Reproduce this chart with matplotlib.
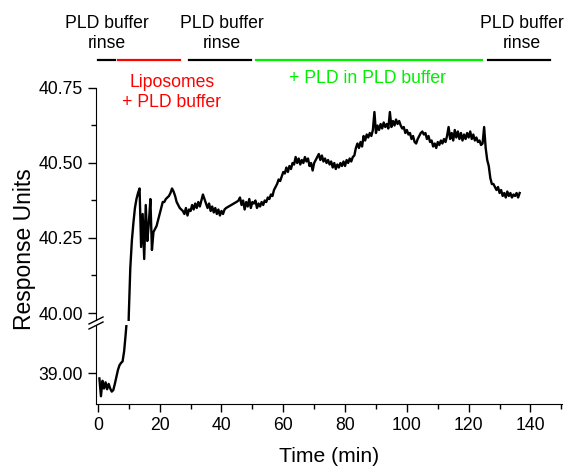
import numpy as np
import matplotlib.pyplot as plt
from matplotlib.lines import Line2D
from matplotlib.ticker import MultipleLocator, FixedLocator, FormatStrFormatter

plt.rcParams["font.family"] = ["Liberation Sans", "DejaVu Sans"]

# sensorgram, one reading every 0.5 min
time_min = np.arange(0.5, 137.0, 0.5)
response = np.array([
    38.93, 38.70, 38.90, 38.80, 38.88, 38.79, 38.86, 38.80, 38.76, 38.78,
    38.86, 38.95, 39.04, 39.10, 39.13, 39.15, 39.28, 39.50, 39.75, 39.99,
    40.15, 40.24, 40.30, 40.35, 40.38, 40.40, 40.415, 40.22, 40.33, 40.18,
    40.36, 40.24, 40.30, 40.38, 40.21, 40.27, 40.28, 40.29, 40.31, 40.33,
    40.35, 40.37, 40.37, 40.38, 40.385, 40.39, 40.40, 40.415, 40.405, 40.39,
    40.37, 40.36, 40.35, 40.345, 40.34, 40.33, 40.35, 40.325, 40.345, 40.34,
    40.36, 40.345, 40.365, 40.35, 40.37, 40.355, 40.375, 40.395, 40.38, 40.365,
    40.35, 40.365, 40.34, 40.355, 40.335, 40.35, 40.33, 40.345, 40.325, 40.34,
    40.33, 40.345, 40.35, 40.353, 40.356, 40.359, 40.362, 40.365, 40.368, 40.371,
    40.375, 40.385, 40.36, 40.375, 40.345, 40.37, 40.355, 40.38, 40.35, 40.37,
    40.365, 40.375, 40.35, 40.365, 40.355, 40.37, 40.36, 40.375, 40.37, 40.385,
    40.38, 40.395, 40.39, 40.41, 40.42, 40.43, 40.445, 40.44, 40.455, 40.47,
    40.465, 40.485, 40.47, 40.49, 40.48, 40.50, 40.495, 40.52, 40.50, 40.515,
    40.495, 40.51, 40.50, 40.52, 40.505, 40.515, 40.49, 40.50, 40.475, 40.50,
    40.51, 40.52, 40.53, 40.51, 40.525, 40.505, 40.515, 40.50, 40.51, 40.495,
    40.505, 40.485, 40.50, 40.48, 40.495, 40.485, 40.50, 40.49, 40.505, 40.49,
    40.51, 40.50, 40.515, 40.505, 40.52, 40.525, 40.55, 40.565, 40.55, 40.57,
    40.555, 40.59, 40.575, 40.595, 40.585, 40.60, 40.59, 40.61, 40.67, 40.60,
    40.625, 40.61, 40.63, 40.615, 40.635, 40.62, 40.63, 40.615, 40.67, 40.62,
    40.64, 40.625, 40.645, 40.63, 40.64, 40.625, 40.615, 40.62, 40.60, 40.61,
    40.595, 40.60, 40.58, 40.59, 40.57, 40.565, 40.58, 40.59, 40.60, 40.605,
    40.595, 40.60, 40.58, 40.59, 40.57, 40.575, 40.555, 40.565, 40.55, 40.57,
    40.56, 40.575, 40.565, 40.58, 40.57, 40.59, 40.62, 40.58, 40.60, 40.575,
    40.61, 40.585, 40.605, 40.58, 40.60, 40.575, 40.595, 40.58, 40.60, 40.585,
    40.605, 40.58, 40.595, 40.575, 40.585, 40.57, 40.575, 40.56, 40.565, 40.62,
    40.55, 40.51, 40.49, 40.45, 40.43, 40.43, 40.42, 40.41, 40.42, 40.40,
    40.41, 40.39, 40.40, 40.385, 40.405, 40.39, 40.40, 40.385, 40.395, 40.39,
    40.40, 40.385, 40.40,
])

# injection phases drawn above the plot
phase_starts = [0.2, 6.4, 29.4, 51.1, 126.4]
phase_ends = [5.6, 26.5, 49.4, 124.4, 146.3]
phase_colors = ["black", "red", "black", "#00f000", "black"]

rinse_labels = ["PLD buffer\nrinse", "PLD buffer\nrinse", "PLD buffer\nrinse"]
rinse_label_x = [3.0, 40.2, 137.1]
sample_labels = ["Liposomes\n+ PLD buffer", "+ PLD in PLD buffer"]
sample_label_x = [23.9, 87.2]
sample_label_y = [40.735, 40.783]
sample_colors = ["red", "#00f000"]

W, H = 564, 468
fig = plt.figure(figsize=(W / 100, H / 100), dpi=100)


def fig_box(x0, y_top, x1, y_bottom):
    return [x0 / W, 1 - y_bottom / H, (x1 - x0) / W, (y_bottom - y_top) / H]


ax_top = fig.add_axes(fig_box(96, 88, 562, 320.5))
ax_bot = fig.add_axes(fig_box(96, 325, 562, 404))

for ax in (ax_top, ax_bot):
    ax.plot(time_min, response, color="black", lw=1.7)
    ax.set_xlim(-0.6, 150.2)
    ax.spines["top"].set_visible(False)
    ax.spines["right"].set_visible(False)
    ax.tick_params(which="major", length=5.5, width=1, labelsize=12.7, pad=4)
    ax.tick_params(which="minor", length=3.5, width=1)

ax_top.set_ylim(39.975, 40.75)
ax_top.spines["bottom"].set_visible(False)
ax_top.tick_params(axis="x", which="both", bottom=False, labelbottom=False)
ax_top.yaxis.set_major_locator(MultipleLocator(0.25))
ax_top.yaxis.set_minor_locator(MultipleLocator(0.125))
ax_top.yaxis.set_major_formatter(FormatStrFormatter("%.2f"))

ax_bot.set_ylim(38.6, 39.62)
ax_bot.yaxis.set_major_locator(FixedLocator([39.0]))
ax_bot.yaxis.set_major_formatter(FormatStrFormatter("%.2f"))
ax_bot.xaxis.set_major_locator(MultipleLocator(20))
ax_bot.xaxis.set_minor_locator(MultipleLocator(10))

ax_bot.set_xlabel("Time (min)", fontsize=15.2, labelpad=9)
fig.text(25 / W, 1 - 249 / H, "Response Units", rotation=90,
         ha="center", va="center", fontsize=16.5)

# axis break marks
for dy in (0, 5):
    fig.add_artist(Line2D([89 / W, 103 / W],
                          [1 - (324 + dy) / H, 1 - (317 + dy) / H],
                          color="black", lw=1))

for x0, x1, c in zip(phase_starts, phase_ends, phase_colors):
    ax_top.plot([x0, x1], [40.843, 40.843], color=c, lw=1.6, clip_on=False)

for label, x in zip(rinse_labels, rinse_label_x):
    ax_top.text(x, 40.932, label, ha="center", va="center", fontsize=12.7,
                linespacing=1.25, clip_on=False)

for label, x, y, c in zip(sample_labels, sample_label_x, sample_label_y, sample_colors):
    ax_top.text(x, y, label, ha="center", va="center", fontsize=12.7,
                color=c, linespacing=1.25, clip_on=False)

fig.savefig("out.png", dpi=100)
